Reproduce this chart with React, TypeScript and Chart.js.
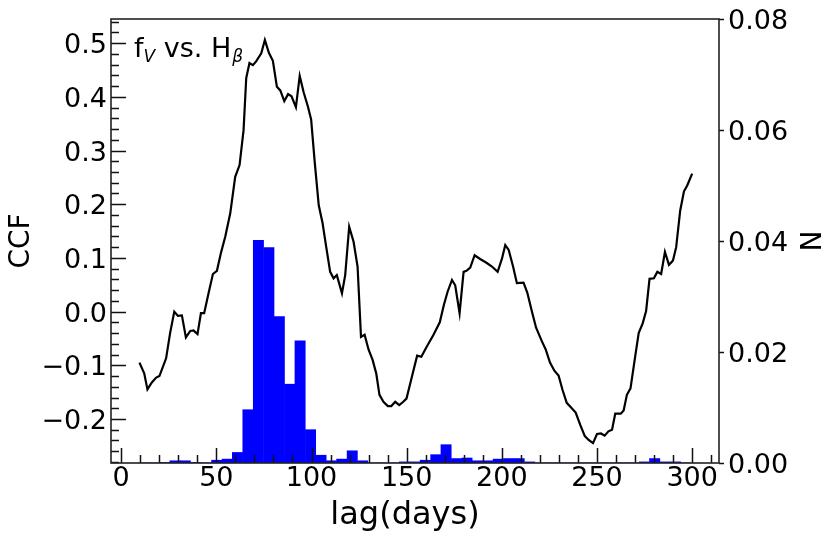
import React, { useEffect, useRef } from "react";
import { Chart, registerables } from "chart.js";

Chart.register(...registerables);

// CCF curve (lag in days, CCF value)
const ccfLag = [
  9.6, 12.1, 13.8, 16.1, 18.4, 20.1, 23.6, 25.7, 27.9, 29.8, 31.9, 34.0, 36.3, 38.0, 40.1, 41.9, 43.6, 45.9, 48.2, 50.3,
  52.4, 54.7, 57.3, 59.9, 62.2, 64.3, 65.7, 67.4, 69.2, 70.9, 73.6, 75.5, 77.6, 79.7, 81.8, 83.6, 85.7, 87.7, 89.5, 91.8,
  93.8, 95.9, 98.1, 99.8, 101.7, 103.8, 105.8, 107.7, 109.8, 111.6, 113.3, 116.0, 117.7, 119.8, 122.1, 124.2, 126.0, 127.9, 130.0, 132.1,
  134.0, 135.7, 137.8, 140.1, 141.9, 144.0, 146.1, 148.2, 149.9, 152.0, 155.5, 157.7, 160.6, 164.1, 167.4, 169.5, 171.5, 173.8, 175.5, 177.8,
  179.9, 181.4, 183.4, 185.7, 188.6, 191.9, 194.8, 197.8, 200.1, 201.8, 203.6, 205.9, 207.9, 211.4, 213.4, 215.8, 218.0, 221.0, 223.0, 225.3,
  227.6, 229.8, 231.9, 234.1, 236.5, 238.8, 241.2, 243.6, 245.6, 247.9, 250.0, 252.1, 254.0, 256.0, 257.9, 259.6, 262.5, 264.0, 265.7, 267.6,
  269.8, 271.9, 274.0, 275.8, 277.6, 279.9, 281.7, 283.7, 285.7, 287.8, 289.9, 291.6, 293.7, 295.7, 297.4, 300.0,
];
const ccfValue = [
  -0.095, -0.115, -0.145, -0.132, -0.123, -0.12, -0.087, -0.04, 0.0, -0.008, -0.007, -0.048, -0.036, -0.035, -0.042, -0.003, -0.003, 0.034, 0.07, 0.076,
  0.109, 0.14, 0.183, 0.251, 0.273, 0.338, 0.435, 0.463, 0.459, 0.466, 0.481, 0.506, 0.482, 0.467, 0.419, 0.412, 0.392, 0.405, 0.401, 0.381,
  0.439, 0.408, 0.382, 0.358, 0.278, 0.198, 0.165, 0.121, 0.074, 0.062, 0.068, 0.034, 0.068, 0.158, 0.13, 0.084, -0.047, -0.043, -0.071, -0.09,
  -0.115, -0.155, -0.168, -0.176, -0.176, -0.168, -0.174, -0.168, -0.162, -0.132, -0.082, -0.084, -0.065, -0.043, -0.02, 0.012, 0.037, 0.059, 0.049, -0.003,
  0.074, 0.076, 0.082, 0.105, 0.098, 0.091, 0.084, 0.074, 0.099, 0.124, 0.115, 0.084, 0.053, 0.054, 0.035, 0.0, -0.03, -0.055, -0.07, -0.095,
  -0.11, -0.119, -0.146, -0.17, -0.179, -0.188, -0.211, -0.232, -0.239, -0.245, -0.228, -0.227, -0.231, -0.223, -0.22, -0.19, -0.19, -0.184, -0.155, -0.143,
  -0.09, -0.04, -0.022, 0.001, 0.061, 0.062, 0.074, 0.07, 0.111, 0.087, 0.095, 0.12, 0.188, 0.224, 0.235, 0.257,
];

// Histogram of lags (bin centres in days, normalised count N)
const histLag = [
  11.8, 17.3, 22.8, 28.3, 33.7, 39.2, 44.7, 50.2, 55.7, 61.1, 66.6, 72.1, 77.6, 83.1, 88.5, 94.0, 99.5, 105.0, 110.5, 115.9,
  121.4, 126.9, 132.4, 137.9, 143.3, 148.8, 154.3, 159.8, 165.3, 170.7, 176.2, 181.7, 187.2, 192.7, 198.1, 203.6, 209.1, 214.6, 220.1, 225.5,
  231.0, 236.5, 242.0, 247.5, 252.9, 258.4, 263.9, 269.4, 274.9, 280.3, 285.8, 291.3, 296.8,
];
const histN = [
  0, 0, 0.0001, 0.0004, 0.0004, 0.0001, 0, 0.0005, 0.0007, 0.0019, 0.0096, 0.0401, 0.0388, 0.0264, 0.0142, 0.022, 0.006, 0.0014, 0.0004, 0.0007,
  0.0022, 0.0004, 0, 0, 0, 0.0002, 0.0002, 0.0005, 0.0015, 0.0033, 0.0008, 0.0009, 0.0004, 0.0004, 0.0007, 0.0008, 0.0008, 0.0002, 0, 0,
  0, 0, 0, 0, 0, 0, 0, 0, 0.0002, 0.0008, 0.0002, 0.0002, 0,
];

const lagTicks = [0, 50, 100, 150, 200, 250, 300];
const ccfTicks = [-0.2, -0.1, 0.0, 0.1, 0.2, 0.3, 0.4, 0.5];
const nTicks = [0, 0.02, 0.04, 0.06, 0.08];

const FONT = '"DejaVu Sans", "Noto Sans", sans-serif';

function fmtCcf(v: number) {
  const s = Math.abs(v).toFixed(1);
  return v < -1e-9 ? "\u2212" + s : s;
}

const decorPlugin = {
  id: "decor",
  afterDraw(chart: any) {
    const { ctx, chartArea: a, scales } = chart;
    const sx = scales.x;
    const sy = scales.y;
    const sy2 = scales.y2;
    ctx.save();
    ctx.strokeStyle = "#111";
    ctx.lineWidth = 1.5;
    ctx.lineCap = "butt";
    ctx.beginPath();
    // bottom ticks (inward)
    for (let v = 10; v <= 314; v += 10) {
      const major = v % 50 === 0;
      const px = Math.round(sx.getPixelForValue(v)) + 0.5;
      ctx.moveTo(px, a.bottom);
      ctx.lineTo(px, a.bottom - (major ? 15 : 8));
    }
    for (const v of lagTicks) {
      const px = Math.round(sx.getPixelForValue(v)) + 0.5;
      ctx.moveTo(px, a.bottom);
      ctx.lineTo(px, a.bottom - 15);
    }
    // left ticks (inward)
    for (let i = -14; i <= 27; i++) {
      const v = i * 0.02;
      const major = i % 5 === 0;
      const py = Math.round(sy.getPixelForValue(v)) + 0.5;
      ctx.moveTo(a.left, py);
      ctx.lineTo(a.left + (major ? 15 : 8), py);
    }
    // right ticks (outward)
    for (const v of nTicks) {
      const py = Math.round(sy2.getPixelForValue(v)) + 0.5;
      ctx.moveTo(a.right, py);
      ctx.lineTo(a.right + 5, py);
    }
    ctx.stroke();

    // spines
    ctx.strokeStyle = "#222";
    ctx.lineWidth = 1.6;
    ctx.strokeRect(a.left, a.top, a.right - a.left, a.bottom - a.top);

    // tick labels
    ctx.fillStyle = "#000";
    ctx.font = `27px ${FONT}`;
    ctx.textBaseline = "alphabetic";
    ctx.textAlign = "center";
    for (const v of lagTicks) {
      ctx.fillText(String(v), sx.getPixelForValue(v), 486);
    }
    ctx.textAlign = "right";
    for (const v of ccfTicks) {
      ctx.fillText(fmtCcf(v), a.left - 4, sy.getPixelForValue(v) + 10);
    }
    ctx.textAlign = "left";
    for (const v of nTicks) {
      ctx.fillText(v.toFixed(2), a.right + 9, sy2.getPixelForValue(v) + 10);
    }

    // axis titles
    ctx.font = `32px ${FONT}`;
    ctx.textAlign = "center";
    ctx.fillText("lag(days)", 405, 524);

    ctx.font = `28px ${FONT}`;
    const cy = (a.top + a.bottom) / 2;
    ctx.save();
    ctx.translate(29, cy);
    ctx.rotate(-Math.PI / 2);
    ctx.textAlign = "center";
    ctx.fillText("CCF", 0, 0);
    ctx.restore();

    ctx.save();
    ctx.translate(821, cy);
    ctx.rotate(-Math.PI / 2);
    ctx.textAlign = "center";
    ctx.fillText("N", 0, 0);
    ctx.restore();

    // annotation  f_V vs. H_beta
    ctx.textAlign = "left";
    let x = 134;
    const base = 57;
    ctx.font = `27px ${FONT}`;
    ctx.fillText("f", x, base);
    x += ctx.measureText("f").width;
    ctx.font = `italic 17px ${FONT}`;
    ctx.fillText("V", x, base + 5);
    x += ctx.measureText("V").width;
    ctx.font = `27px ${FONT}`;
    ctx.fillText(" vs. H", x, base);
    x += ctx.measureText(" vs. H").width;
    ctx.font = `italic 17px ${FONT}`;
    ctx.fillText("\u03b2", x + 1, base + 5);

    ctx.restore();
  },
};

export default function App() {
  const ref = useRef<HTMLCanvasElement | null>(null);

  useEffect(() => {
    if (!ref.current) return;
    const chart = new Chart(ref.current, {
      data: {
        datasets: [
          {
            type: "line",
            label: "CCF",
            data: ccfLag.map((l, i) => ({ x: l, y: ccfValue[i] })),
            xAxisID: "x",
            yAxisID: "y",
            borderColor: "#000",
            borderWidth: 2.2,
            pointRadius: 0,
            tension: 0,
            fill: false,
            order: 0,
          },
          {
            type: "bar",
            label: "N",
            data: histLag.map((l, i) => ({ x: l, y: histN[i] })),
            xAxisID: "x",
            yAxisID: "y2",
            backgroundColor: "rgb(0,0,255)",
            borderWidth: 0,
            barPercentage: 1,
            categoryPercentage: 1,
            grouped: false,
            order: 1,
          },
        ],
      } as any,
      options: {
        animation: false,
        responsive: true,
        maintainAspectRatio: false,
        layout: { padding: { top: 19, left: 0, right: 0, bottom: 0 } },
        plugins: { legend: { display: false }, tooltip: { enabled: false } },
        events: [],
        scales: {
          x: {
            type: "linear",
            offset: false,
            min: -5.35,
            max: 314.1,
            grid: { display: false, drawTicks: false },
            border: { display: false },
            ticks: { display: false },
            afterFit: (s: any) => {
              s.height = 78;
            },
          },
          y: {
            type: "linear",
            position: "left",
            min: -0.282,
            max: 0.545,
            grid: { display: false, drawTicks: false },
            border: { display: false },
            ticks: { display: false },
            afterFit: (s: any) => {
              s.width = 111;
            },
          },
          y2: {
            type: "linear",
            position: "right",
            min: 0,
            max: 0.08,
            grid: { display: false, drawTicks: false },
            border: { display: false },
            ticks: { display: false },
            afterFit: (s: any) => {
              s.width = 112;
            },
          },
        },
      } as any,
      plugins: [decorPlugin],
    });
    return () => chart.destroy();
  }, []);

  return (
    <div style={{ position: "absolute", left: 0, top: 0, width: 831, height: 541, background: "#fff" }}>
      <canvas ref={ref} />
    </div>
  );
}
